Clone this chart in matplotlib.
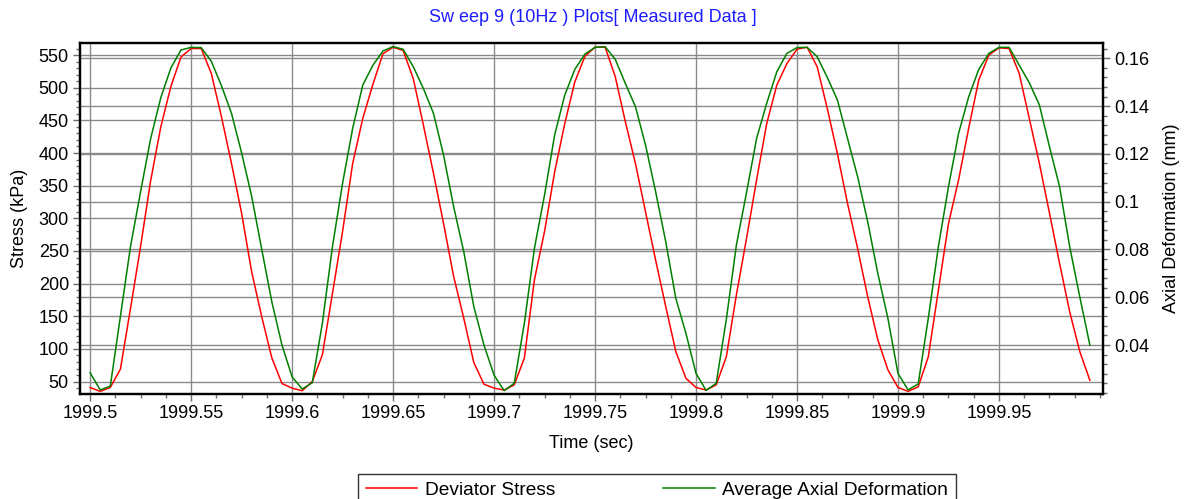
import numpy as np
import matplotlib
matplotlib.use("Agg")
import matplotlib.pyplot as plt
from matplotlib.ticker import FixedLocator, MultipleLocator, FuncFormatter

plt.rcParams['font.family'] = ['Liberation Sans', 'DejaVu Sans']

# sampling grid of the sweep (one sample every 5 ms)
t_start = 1999.5
t_step = 0.005
n_samples = 100

# deviator stress, kPa (five load cycles, 20 samples each)
deviator_stress = [
    41, 35, 41, 69, 162, 257, 358, 440, 502, 547, 560, 560, 522, 456, 384, 308, 218, 149, 86, 47,
    40, 36, 50, 91, 185, 280, 384, 453, 505, 552, 562, 557, 514, 443, 369, 292, 211, 147, 79, 46,
    40, 37, 45, 86, 206, 280, 371, 445, 509, 548, 562, 562, 517, 448, 384, 310, 236, 165, 96, 55,
    41, 37, 45, 88, 183, 269, 359, 445, 504, 537, 559, 562, 532, 468, 399, 323, 254, 180, 114, 68,
    41, 35, 42, 88, 190, 292, 359, 438, 512, 550, 561, 560, 522, 453, 384, 308, 231, 157, 96, 52,
]

# average axial deformation, mm
axial_deformation = [
    0.0284, 0.0212, 0.0228, 0.0520, 0.0812, 0.1042, 0.1265, 0.1435, 0.1560, 0.1635,
    0.1646, 0.1645, 0.1588, 0.1486, 0.1370, 0.1205, 0.1022, 0.0800, 0.0580, 0.0400,
    0.0267, 0.0216, 0.0242, 0.0491, 0.0812, 0.1077, 0.1307, 0.1488, 0.1571, 0.1631,
    0.1649, 0.1638, 0.1565, 0.1474, 0.1370, 0.1195, 0.0979, 0.0791, 0.0560, 0.0400,
    0.0274, 0.0209, 0.0240, 0.0491, 0.0805, 0.1028, 0.1279, 0.1446, 0.1554, 0.1618,
    0.1646, 0.1649, 0.1596, 0.1495, 0.1398, 0.1237, 0.1042, 0.0833, 0.0595, 0.0449,
    0.0281, 0.0210, 0.0240, 0.0507, 0.0819, 0.1038, 0.1265, 0.1412, 0.1544, 0.1621,
    0.1645, 0.1646, 0.1607, 0.1520, 0.1426, 0.1265, 0.1105, 0.0916, 0.0700, 0.0512,
    0.0281, 0.0212, 0.0237, 0.0512, 0.0812, 0.1063, 0.1286, 0.1439, 0.1554, 0.1621,
    0.1646, 0.1646, 0.1572, 0.1498, 0.1405, 0.1230, 0.1063, 0.0812, 0.0602, 0.0400,
]

time_ticks = [1999.5, 1999.55, 1999.6, 1999.65, 1999.7, 1999.75, 1999.8, 1999.85, 1999.9, 1999.95]
stress_ticks = [50, 100, 150, 200, 250, 300, 350, 400, 450, 500, 550]
deform_ticks = [0.04, 0.06, 0.08, 0.1, 0.12, 0.14, 0.16]

titulo = "Sw eep 9 (10Hz ) Plots[ Measured Data ]"

t = t_start + t_step * np.arange(n_samples)

W, H = 1187, 499
fig = plt.figure(figsize=(W / 100, H / 100), dpi=100)
ax1 = fig.add_axes([80 / W, 1 - 394 / H, (1103 - 80) / W, (394 - 43.3) / H])
ax2 = ax1.twinx()

# left axes on top so both curves sit over every grid line
ax1.set_zorder(ax2.get_zorder() + 1)
ax1.patch.set_visible(False)

cor_grid = '#8a8a8a'
cor_tick = '#6a6a6a'

ax1.set_xlim(1999.495, 2000.0015)
ax1.set_ylim(31, 568)
ax2.set_ylim(0.0195, 0.1663)

fmt = FuncFormatter(lambda v, pos: f"{round(v, 4):g}")

ax1.xaxis.set_major_locator(FixedLocator(time_ticks))
ax1.xaxis.set_minor_locator(MultipleLocator(0.0125))
ax1.xaxis.set_major_formatter(fmt)
ax1.yaxis.set_major_locator(FixedLocator(stress_ticks))
ax1.yaxis.set_minor_locator(MultipleLocator(10))
ax2.yaxis.set_major_locator(FixedLocator(deform_ticks))
ax2.yaxis.set_minor_locator(MultipleLocator(0.004))
ax2.yaxis.set_major_formatter(fmt)

ax2.grid(True, axis='y', which='major', color=cor_grid, lw=1.0)
ax1.grid(True, axis='both', which='major', color=cor_grid, lw=1.0)

for ax in (ax1, ax2):
    ax.tick_params(which='major', length=5, width=1, color=cor_tick,
                   labelsize=13, direction='out', pad=3)
    ax.tick_params(which='minor', length=3, width=1, color=cor_tick, direction='out')
    for s in ax.spines.values():
        s.set_linewidth(1.6)
        s.set_color('black')

l1, = ax1.plot(t, deviator_stress, color='#ff0000', lw=1.1)
l2, = ax1.plot(t, axial_deformation, color='#008000', lw=1.1, transform=ax2.transData)

ax1.set_xlim(1999.495, 2000.0015)
ax1.set_ylim(31, 568)

ax1.set_xlabel('Time (sec)', fontsize=13, labelpad=9)
ax1.set_ylabel('Stress (kPa)', fontsize=13, labelpad=8)
ax2.set_ylabel('Axial Deformation (mm)', fontsize=13, labelpad=10)

fig.text(593 / W, 1 - 17 / H, titulo, color='#1c1cff', fontsize=13,
         ha='center', va='center')

leg = fig.legend([l1, l2], ['Deviator Stress', 'Average Axial Deformation'],
                 loc='upper left', bbox_to_anchor=(358 / W, 1 - 474 / H),
                 ncol=2, fontsize=13.8, frameon=True, fancybox=False,
                 edgecolor='#333333', framealpha=1, handlelength=2.7,
                 handletextpad=0.4, columnspacing=5.6, borderpad=0.4,
                 borderaxespad=0)
leg.get_frame().set_linewidth(1.0)

plt.savefig('out.png', dpi=100)
plt.close()
